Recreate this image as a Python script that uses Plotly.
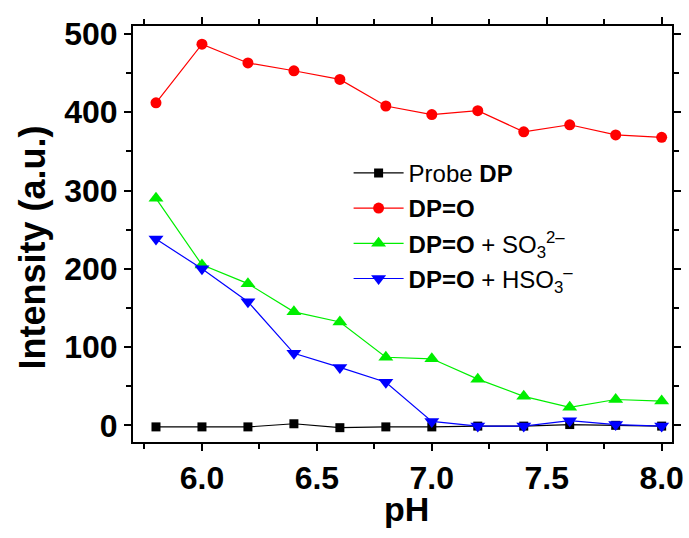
import plotly.graph_objects as go

ph = [5.8, 6.0, 6.2, 6.4, 6.6, 6.8, 7.0, 7.2, 7.4, 7.6, 7.8, 8.0]
probe_dp = [-2, -2, -2, 2, -3, -2, -2, -1, -1, 1, 0, -1]
dp_o = [412, 487, 463, 453, 442, 408, 397, 402, 375, 384, 371, 368]
dp_o_so3 = [290, 205, 181, 145, 132, 87, 85, 59, 37, 23, 33, 31]
dp_o_hso3 = [238, 200, 158, 92, 74, 55, 5, -1, -1, 6, 1, -1]

names = ["Probe <b>DP</b>", "<b>DP=O</b>",
         "<b>DP=O</b> + SO<sub>3</sub><sup>2\u2013</sup>",
         "<b>DP=O</b> + HSO<sub>3</sub><sup>\u2013</sup>"]
colors = ["#000000", "#FF0000", "#00EE00", "#0000FF"]
symbols = ["square", "circle", "triangle-up", "triangle-down"]
sizes = [9, 11, 13, 13]
series = [probe_dp, dp_o, dp_o_so3, dp_o_hso3]

fig = go.Figure()
for i, (nm, c, s, sz, ys) in enumerate(zip(names, colors, symbols, sizes, series)):
    fig.add_trace(go.Scatter(x=ph, y=ys, name=nm, mode="lines+markers",
                             legendgroup="g%d" % i,
                             line=dict(color=c, width=1.2),
                             marker=dict(symbol=s, size=sz, color=c)))

axis_common = dict(showline=True, linecolor="black", linewidth=2, mirror="allticks",
                   ticks="outside", tickcolor="black", tickwidth=1.5, ticklen=7,
                   showgrid=False, zeroline=False, automargin=False,
                   tickfont=dict(family="Arial, Liberation Sans", size=32, color="black", weight="bold"))

fig.update_layout(
    width=689, height=538,
    margin=dict(l=133, r=17, t=26, b=96),
    paper_bgcolor="white", plot_bgcolor="white",
    font=dict(family="Arial, Liberation Sans", color="black"),
    xaxis=dict(range=[5.70, 8.045], tickvals=[6.0, 6.5, 7.0, 7.5, 8.0],
               ticktext=["6.0", "6.5", "7.0", "7.5", "8.0"],
               minor=dict(dtick=0.25, tick0=5.75, ticks="outside", ticklen=5, tickcolor="black", tickwidth=1.5),
               **axis_common),
    yaxis=dict(range=[-21.3, 510.2], tickvals=[0, 100, 200, 300, 400, 500],
               minor=dict(dtick=50, tick0=0, ticks="outside", ticklen=5, tickcolor="black", tickwidth=1.5),
               **axis_common),
    annotations=[
        dict(text="<b>pH</b>", x=0.508, y=-0.16, xref="paper", yref="paper",
             xanchor="center", yanchor="middle", showarrow=False,
             font=dict(size=34, color="black")),
        dict(text="<b>Intensity (a.u.)</b>", x=-0.186, y=0.467, xref="paper", yref="paper",
             xanchor="center", yanchor="middle", showarrow=False, textangle=-90,
             font=dict(size=36, color="black")),
    ],
    legend=dict(x=0.40, y=0.70, xanchor="left", yanchor="top",
                bgcolor="rgba(0,0,0,0)", font=dict(size=24, color="black"),
                tracegroupgap=1, itemsizing="trace", itemwidth=50),
    showlegend=True,
)

fig.write_html("out.html")
